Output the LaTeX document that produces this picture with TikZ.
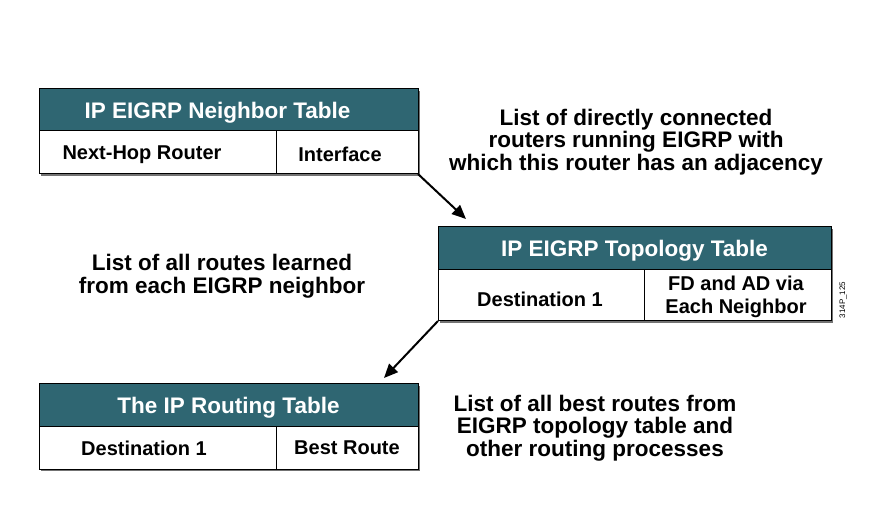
\documentclass[tikz,border=0pt]{standalone}
\usepackage{fontspec}
\setmainfont{Liberation Sans}
\usetikzlibrary{arrows.meta}
\definecolor{hdr}{HTML}{2F6672}
\begin{document}
\begin{tikzpicture}[x=1pt,y=-1pt,
  hdrtext/.style={text=white,font=\bfseries\fontsize{22.5}{26}\selectfont},
  celltext/.style={font=\bfseries\fontsize{20}{23}\selectfont,align=center},
  desc/.style={font=\bfseries\fontsize{22.5}{22.5}\selectfont,align=center},
  conn/.style={draw=black,line width=2pt,-{Triangle[length=14pt,width=12pt]}},
  shadowbox/.style={fill=black!55},
  tbl/.style={draw=black,line width=1pt}]
\useasboundingbox (0,0) rectangle (873,526);
% ---- neighbor table
\fill[shadowbox] (41,91) rectangle (420,176);
\fill[hdr] (39,89) rectangle (418,131);
\fill[white] (39,131) rectangle (418,174);
\draw[tbl] (39,89) rectangle (418,174) (39,131) -- (418,131) (276,131) -- (276,174);
\node[hdrtext] (nt) at (217.5,113) {IP EIGRP Neighbor Table};
\node[celltext] (nc1) at (142,155) {Next-Hop Router};
\node[celltext] (nc2) at (340,154) {Interface};
\coordinate (ntc) at (418,174);
% ---- topology table
\fill[shadowbox] (440,229) rectangle (833,323);
\fill[hdr] (438,227) rectangle (831,270);
\fill[white] (438,270) rectangle (831,321);
\draw[tbl] (438,227) rectangle (831,321) (438,270) -- (831,270) (644,270) -- (644,321);
\node[hdrtext] (tt) at (634.5,251) {IP EIGRP Topology Table};
\node[celltext] (tc1) at (540,299) {Destination 1};
\node[celltext] (tc2) at (736,297) {FD and AD via\\Each Neighbor};
\coordinate (ttop) at (466,219);
\coordinate (ttc) at (438,321);
% ---- routing table
\fill[shadowbox] (41,386) rectangle (420,471);
\fill[hdr] (39,384) rectangle (418,427);
\fill[white] (39,427) rectangle (418,469);
\draw[tbl] (39,384) rectangle (418,469) (39,427) -- (418,427) (276,427) -- (276,469);
\node[hdrtext] (rt) at (228.5,408) {The IP Routing Table};
\node[celltext] (rc1) at (144,448) {Destination 1};
\node[celltext] (rc2) at (347,448) {Best Route};
\coordinate (rtop) at (384,378);
% ---- connectors
\draw[conn] (ntc) -- (ttop);
\draw[conn] (ttc) -- (rtop);
% ---- descriptions
\node[desc] (d1) at (636,142) {List of directly connected\\routers running EIGRP with\\which this router has an adjacency};
\node[desc] (d2) at (222,276) {List of all routes learned\\from each EIGRP neighbor};
\node[desc] (d3) at (595,428) {List of all best routes from\\EIGRP topology table and\\other routing processes};
\node[rotate=90,font=\fontsize{8}{9}\selectfont] (id) at (843,300) {314P\_125};
\end{tikzpicture}
\end{document}
